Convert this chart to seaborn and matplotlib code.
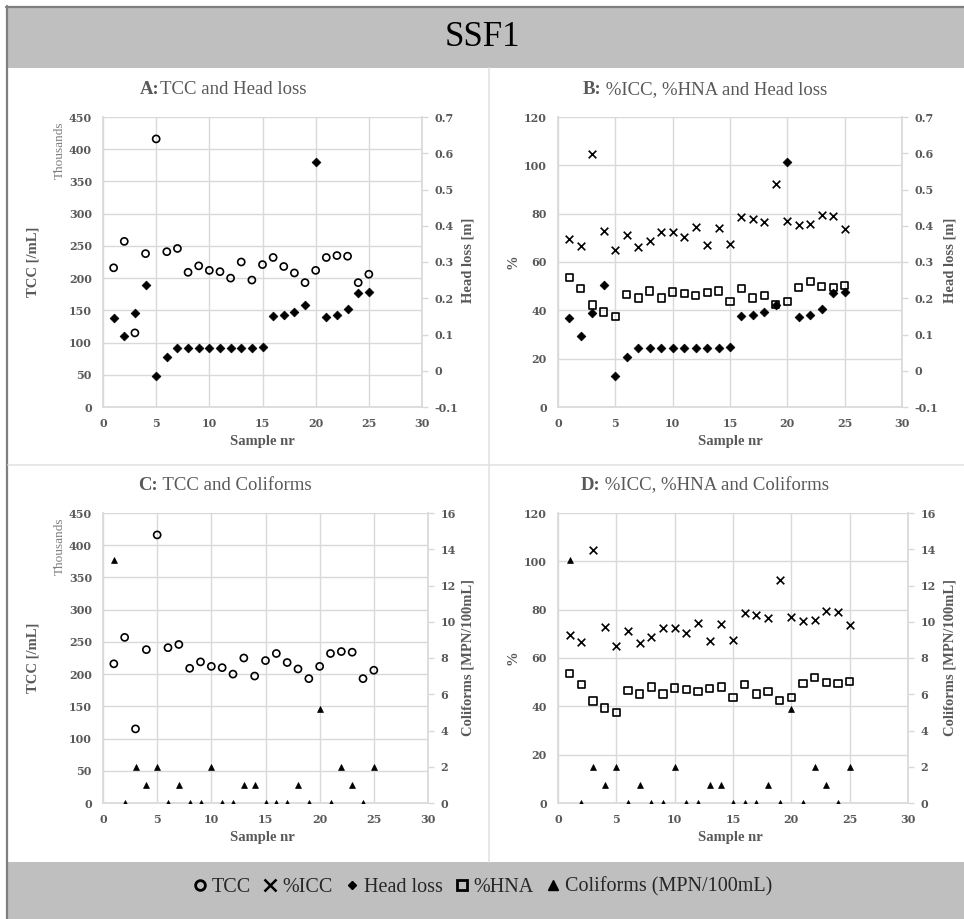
import numpy as np
import pandas as pd
import matplotlib
matplotlib.use("Agg")
import matplotlib.pyplot as plt
import seaborn as sns
from matplotlib.lines import Line2D
from matplotlib.patches import Rectangle
from matplotlib.ticker import FuncFormatter, MultipleLocator

# ---------------- data ----------------
sample_nr = list(range(1, 26))
tcc_thousands = [216, 257, 115, 238, 416, 241, 246, 209, 219, 212, 210, 200, 225,
                 197, 221, 232, 218, 208, 193, 212, 232, 235, 234, 193, 206]
head_loss_m = [0.145, 0.095, 0.160, 0.237, -0.015, 0.038, 0.064, 0.064, 0.064, 0.064,
               0.064, 0.064, 0.064, 0.064, 0.066, 0.152, 0.155, 0.162, 0.181, 0.577,
               0.147, 0.155, 0.170, 0.215, 0.217]
icc_pct = [69.5, 66.8, 104.7, 73.0, 65.1, 71.0, 66.2, 68.7, 72.6, 72.6, 70.3, 74.6, 67.2,
           74.2, 67.6, 78.5, 77.7, 76.4, 92.1, 76.8, 75.3, 75.7, 79.6, 79.2, 73.7]
hna_pct = [53.4, 49.1, 42.2, 39.3, 37.4, 46.6, 45.1, 48.0, 45.1, 47.6, 46.8, 46.1, 47.4,
           48.0, 43.6, 49.1, 45.1, 46.2, 42.3, 43.6, 49.4, 52.1, 49.9, 49.4, 50.3]
coliforms_mpn = [13.4, 0, 2, 1, 2, 0, 1, 0, 0, 2, 0, 0, 1, 1, 0, 0, 0, 1, 0, 5.2,
                 0, 2, 1, 0, 2]

panel_titles = [("A:", "TCC and Head loss"), ("B:", " %ICC, %HNA and Head loss"),
                ("C:", " TCC and Coliforms"), ("D:", " %ICC, %HNA and Coliforms")]
legend_labels = ["TCC", "%ICC", "Head loss", "%HNA", "Coliforms (MPN/100mL)"]

df = pd.DataFrame({"sample": sample_nr, "tcc": tcc_thousands, "head": head_loss_m,
                   "icc": icc_pct, "hna": hna_pct, "coli": coliforms_mpn})

# ---------------- style ----------------
sns.set_theme(style="white")
SERIF = ["Liberation Serif", "DejaVu Serif"]
TICKF = ["DejaVu Serif"]
GRAY = "#595959"
GRID = "#d9d9d9"
plt.rcParams["font.family"] = SERIF

W, H = 964, 919
fig = plt.figure(figsize=(W / 100, H / 100), dpi=100)
fig.patch.set_facecolor("white")


def fx(px):
    return px / W


def fy(py):
    return 1 - py / H


# background bands and frame
fig.patches.append(Rectangle((fx(7), fy(68)), fx(964) - fx(7), fy(7) - fy(68),
                             transform=fig.transFigure, fc="#bfbfbf", ec="none", zorder=0))
fig.patches.append(Rectangle((fx(7), fy(919)), fx(964) - fx(7), fy(862) - fy(919),
                             transform=fig.transFigure, fc="#bfbfbf", ec="none", zorder=0))
fig.add_artist(Line2D([fx(7), fx(7)], [fy(6), fy(919)], color="#7f7f7f", lw=1.6,
                      transform=fig.transFigure))
fig.add_artist(Line2D([fx(6), fx(964)], [fy(7), fy(7)], color="#7f7f7f", lw=1.6,
                      transform=fig.transFigure))
fig.add_artist(Line2D([fx(489), fx(489)], [fy(68), fy(862)], color="#e3e3e3", lw=1.2,
                      transform=fig.transFigure))
fig.add_artist(Line2D([fx(8), fx(964)], [fy(465), fy(465)], color="#e3e3e3", lw=1.2,
                      transform=fig.transFigure))

fig.text(fx(482), fy(38), "SSF1", fontsize=25, family=SERIF, color="black",
         ha="center", va="center")

# axes boxes: left, top, right, bottom in px
boxes = [(103, 117, 422, 407), (558, 117, 902, 407),
         (103, 513, 428, 803), (558, 513, 908, 803)]


def style_axes(ax, ax2, ylim, ystep, y2lim, y2step):
    ax.set_xlim(0, 30)
    ax.xaxis.set_major_locator(MultipleLocator(5))
    ax.set_ylim(*ylim)
    ax.yaxis.set_major_locator(MultipleLocator(ystep))
    ax2.set_ylim(*y2lim)
    ax2.yaxis.set_major_locator(MultipleLocator(y2step))
    ax2.yaxis.set_major_formatter(FuncFormatter(lambda v, p: f"{round(v, 3):g}"))
    ax.grid(True, color=GRID, lw=1.0)
    ax.set_axisbelow(True)
    ax2.grid(False)
    for a in (ax, ax2):
        for s in a.spines.values():
            s.set_visible(False)
        a.set_xlabel("")
        a.set_ylabel("")
    ax.spines["left"].set_visible(True)
    ax.spines["left"].set_color(GRID)
    ax.spines["bottom"].set_visible(True)
    ax.spines["bottom"].set_color(GRID)
    ax2.spines["right"].set_visible(True)
    ax2.spines["right"].set_color(GRID)
    ax.tick_params(axis="both", length=0, pad=8, labelsize=8, labelcolor=GRAY)
    ax2.tick_params(axis="y", right=True, length=4, width=1, color=GRID, pad=5,
                    labelsize=8, labelcolor=GRAY)
    for lab in ax.get_xticklabels() + ax.get_yticklabels() + ax2.get_yticklabels():
        lab.set_family(TICKF)
        lab.set_fontweight("bold")


def open_scatter(ax, y, marker, s, lw=1.2):
    sns.scatterplot(data=df, x="sample", y=y, ax=ax, marker=marker, s=s,
                    color="black", linewidth=lw, legend=False, zorder=3)
    coll = ax.collections[-1]
    coll.set_facecolor("none")
    coll.set_edgecolor("black")
    coll.set_linewidth(lw)


def filled_scatter(ax, y, marker, s):
    sns.scatterplot(data=df, x="sample", y=y, ax=ax, marker=marker, s=s,
                    color="black", edgecolor="black", linewidth=0.5, legend=False,
                    zorder=3)


def x_scatter(ax, y, s):
    sns.scatterplot(data=df, x="sample", y=y, ax=ax, marker="x", s=s,
                    color="black", linewidth=1.2, legend=False, zorder=3)


axes = []
for (l, t, r, b) in boxes:
    ax = fig.add_axes([fx(l), fy(b), fx(r) - fx(l), fy(t) - fy(b)])
    ax.patch.set_alpha(0)
    ax2 = ax.twinx()
    axes.append((ax, ax2))

# Panel A
ax, ax2 = axes[0]
open_scatter(ax, "tcc", "o", 26)
filled_scatter(ax2, "head", "D", 20)
style_axes(ax, ax2, (0, 450), 50, (-0.1, 0.7), 0.1)

# Panel B
ax, ax2 = axes[1]
x_scatter(ax, "icc", 30)
open_scatter(ax, "hna", "s", 26)
filled_scatter(ax2, "head", "D", 20)
style_axes(ax, ax2, (0, 120), 20, (-0.1, 0.7), 0.1)

# Panel C
ax, ax2 = axes[2]
open_scatter(ax, "tcc", "o", 26)
filled_scatter(ax2, "coli", "^", 18)
style_axes(ax, ax2, (0, 450), 50, (0, 16), 2)

# Panel D
ax, ax2 = axes[3]
x_scatter(ax, "icc", 30)
open_scatter(ax, "hna", "s", 26)
filled_scatter(ax2, "coli", "^", 18)
style_axes(ax, ax2, (0, 120), 20, (0, 16), 2)

# ---------------- texts ----------------
lab_kw = dict(family=SERIF, color=GRAY, fontweight="bold", fontsize=10.5,
              ha="center", va="center")
for dy in (0, 396):
    fig.text(fx(33), fy(262 + dy), "TCC [/mL]", rotation=90, **lab_kw)
    fig.text(fx(60), fy(150 + dy), "Thousands", rotation=90, family=SERIF,
             color="#7f7f7f", fontsize=9.5, ha="center", va="center")
    fig.text(fx(513), fy(262 + dy), "%", rotation=90, **lab_kw)
    fig.text(fx(262), fy(441 + dy), "Sample nr", **lab_kw)
    fig.text(fx(730), fy(441 + dy), "Sample nr", **lab_kw)
fig.text(fx(468), fy(260), "Head loss [m]", rotation=90, **lab_kw)
fig.text(fx(950), fy(260), "Head loss [m]", rotation=90, **lab_kw)
fig.text(fx(468), fy(657), "Coliforms [MPN/100mL]", rotation=90, **lab_kw)
fig.text(fx(950), fy(657), "Coliforms [MPN/100mL]", rotation=90, **lab_kw)

# panel titles: bold prefix + regular remainder, centred together
renderer = fig.canvas.get_renderer()
title_pos = [(223, 90), (705, 90), (225, 486), (705, 486)]
for (pre, rest), (cx, cy) in zip(panel_titles, title_pos):
    t1 = fig.text(0, fy(cy), pre, family=SERIF, fontsize=13.5, fontweight="bold",
                  color=GRAY, ha="left", va="center")
    t2 = fig.text(0, fy(cy), rest, family=SERIF, fontsize=13.5, color=GRAY,
                  ha="left", va="center")
    w1 = t1.get_window_extent(renderer).width
    w2 = t2.get_window_extent(renderer).width
    x0 = cx - (w1 + w2) / 2
    t1.set_x(fx(x0))
    t2.set_x(fx(x0 + w1))

# ---------------- legend ----------------
handles = [
    Line2D([], [], ls="none", marker="o", mfc="none", mec="black", mew=2.0, ms=7),
    Line2D([], [], ls="none", marker="x", color="black", mew=1.8, ms=9),
    Line2D([], [], ls="none", marker="D", color="black", ms=4.5),
    Line2D([], [], ls="none", marker="s", mfc="none", mec="black", mew=2.0, ms=7),
    Line2D([], [], ls="none", marker="^", color="black", ms=7),
]
fig.legend(handles, legend_labels, loc="center", bbox_to_anchor=(fx(482), fy(887)),
           ncol=5, frameon=False, handlelength=0.8, handletextpad=0.2,
           columnspacing=0.55, prop={"family": SERIF, "size": 14.5})

fig.savefig("out.png", dpi=100, facecolor="white")
